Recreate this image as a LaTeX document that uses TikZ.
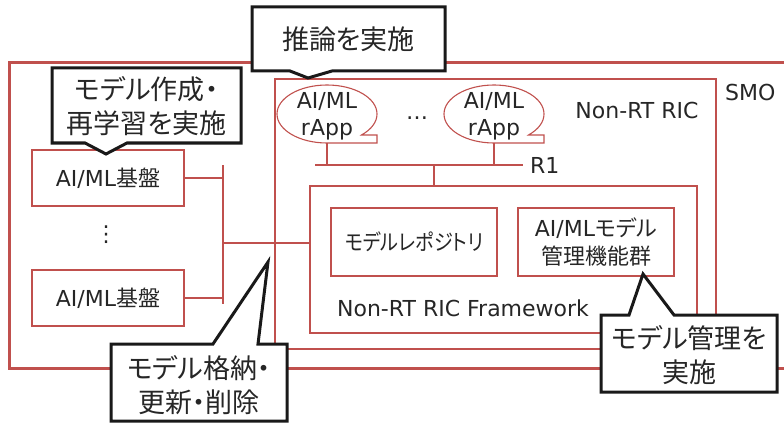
\documentclass[tikz,border=0pt]{standalone}
\usepackage{fontspec}
\setmainfont{DejaVu Sans}
\newfontfamily\jp[RawFeature=+palt]{Noto Sans CJK JP}
\definecolor{ricred}{HTML}{C0504D}
\definecolor{txt}{HTML}{262626}
\begin{document}
\begin{tikzpicture}[x=1pt,y=-1pt,
  thinred/.style={draw=ricred,line width=1.1pt},
  thickred/.style={draw=ricred,line width=3pt},
  boxnode/.style={thinred,rectangle,inner sep=0pt,text=txt,align=center,
    font=\fontsize{22}{28}\selectfont},
  lbl/.style={inner sep=0pt,text=txt,font=\fontsize{22}{27}\selectfont},
  callout/.style={draw=black!90,line width=3pt,line join=miter,fill=white},
  calltext/.style={inner sep=0pt,text=txt,align=center,
    font=\jp\fontsize{27}{34}\selectfont},
  rappshape/.pic={
    \draw[thinred] (0,29) arc[start angle=90,end angle=406.4,x radius=50,y radius=29]
      -- (50,21) -- (50,29) -- cycle;
  }]
\useasboundingbox (0,0) rectangle (784,425);

% SMO frame (continues past the right edge)
\draw[thickred] (800,63) -- (9,63) -- (9,368) -- (800,368);
\node[lbl,anchor=west] (smo) at (725,92) {SMO};

% Non-RT RIC
\draw[thinred] (275,79) rectangle (716,349);
\node[lbl] (nrtric) at (637,110) {Non-RT RIC};

% rApps
\pic at (327,114) {rappshape};
\pic at (494,114) {rappshape};
\node[lbl,align=center] (app1) at (327,116.5) {AI/ML\\rApp};
\node[lbl,align=center] (app2) at (494,116.5) {AI/ML\\rApp};
\node[lbl] (adots) at (417,118) {…};
\coordinate (app1b) at (327,143);
\coordinate (app2b) at (494,143);

% R1 bus
\coordinate (r1l) at (315,165);
\coordinate (r1r) at (523,165);
\coordinate (r1j) at (434,165);
\node[lbl,anchor=west] (r1) at (530,165) {R1};
\draw[thinred] (r1l) -- (r1r);
\draw[thinred] (app1b) -- (app1b |- r1l);
\draw[thinred] (app2b) -- (app2b |- r1l);

% Non-RT RIC Framework
\node[boxnode,minimum width=387pt,minimum height=147pt] (fw) at (503.5,259.5) {};
\node[lbl] (fwlabel) at (463,308) {Non-RT RIC Framework};
\draw[thinred] (r1j) -- (r1j |- fw.north);

\node[boxnode,minimum width=166pt,minimum height=68pt] (repo) at (414,242)
  {\scalebox{0.87}[1]{\jp モデルレポジトリ}};
\node[boxnode,minimum width=156pt,minimum height=68pt] (mgmt) at (596,242)
  {AI/ML{\jp モデル}\\{\jp 管理機能群}};

% AI/ML platforms
\node[boxnode,minimum width=152pt,minimum height=56pt] (pf1) at (108,178)
  {AI/ML{\jp 基盤}};
\node[boxnode,minimum width=152pt,minimum height=56pt] (pf2) at (108,298)
  {AI/ML{\jp 基盤}};
\node[lbl] (pdots) at (106,235) {⋮};

% platform bus
\coordinate (busTop) at (223,165);
\coordinate (busBot) at (223,304);
\coordinate (busMid) at (223,243);
\draw[thinred] (busTop) -- (busBot);
\draw[thinred] (pf1.east) -- (pf1.east -| busTop);
\draw[thinred] (pf2.east) -- (pf2.east -| busTop);
\draw[thinred] (busMid) -- (busMid -| fw.west);

% callouts
\draw[callout] (252,7) -- (445,7) -- (445,71) -- (332,71) -- (308,78)
  -- (290,71) -- (252,71) -- cycle;
\node[calltext] (c1) at (348.5,39) {推論を実施};

\draw[callout] (52,68) -- (241,68) -- (241,143) -- (127,143) -- (106,154)
  -- (85,143) -- (52,143) -- cycle;
\node[calltext] (c2) at (146.5,106) {モデル作成・\\再学習を実施};

\draw[callout] (111,344) -- (213,344) -- (268,262) -- (258,344) -- (287,344)
  -- (287,421) -- (111,421) -- cycle;
\node[calltext] (c3) at (199,385) {モデル格納・\\更新・削除};

\draw[callout] (601,315) -- (629,315) -- (643,274) -- (674,315) -- (777,315)
  -- (777,392) -- (601,392) -- cycle;
\node[calltext] (c4) at (689,355) {モデル管理を\\実施};
\end{tikzpicture}
\end{document}
